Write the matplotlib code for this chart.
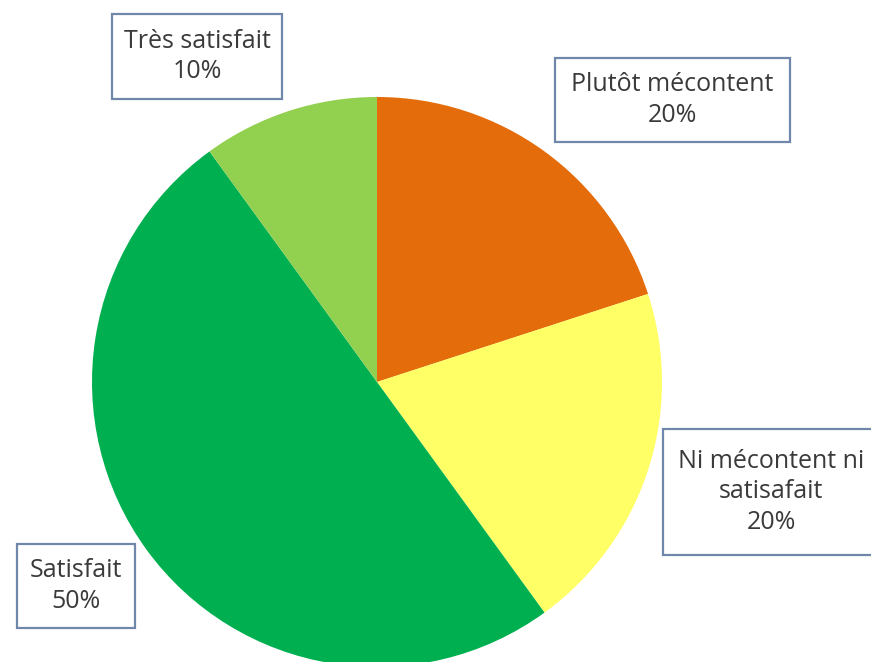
import matplotlib.pyplot as plt
from matplotlib.patches import Rectangle

# slices, clockwise from 12 o'clock
labels = ['Plutôt mécontent', 'Ni mécontent ni\nsatisafait', 'Satisfait', 'Très satisfait']
shares = [20, 20, 50, 10]
colors = ['#E46C0A', '#FFFF66', '#00B050', '#92D050']

# label boxes in pixel coords: (left, top, right, bottom), text centre x
boxes = [(555, 58, 790, 142, 672),
         (663, 429, 885, 555, 771),
         (17, 544, 135, 628, 76),
         (112, 14, 282, 99, 197)]

W, H = 871, 662
fig = plt.figure(figsize=(W / 100, H / 100), dpi=100)
ax = fig.add_axes([0, 0, 1, 1])

ax.pie(shares, colors=colors, startangle=90, counterclock=False,
       center=(377, H - 382), radius=285, frame=True,
       wedgeprops={'linewidth': 0})
ax.set_xlim(0, W)
ax.set_ylim(0, H)
ax.axis('off')

for lab, val, (x0, y0, x1, y1, cx) in zip(labels, shares, boxes):
    ax.add_patch(Rectangle((x0, H - y1), x1 - x0, y1 - y0, facecolor='white',
                           edgecolor='#6F87AA', linewidth=1.6, zorder=3))
    ax.text(cx, H - (y0 + y1) / 2, '%s\n%d%%' % (lab, val), ha='center', va='center',
            fontsize=18, family='Open Sans', color='#3A3A3A', linespacing=1.3,
            zorder=4)

fig.savefig('out.png', dpi=100)
